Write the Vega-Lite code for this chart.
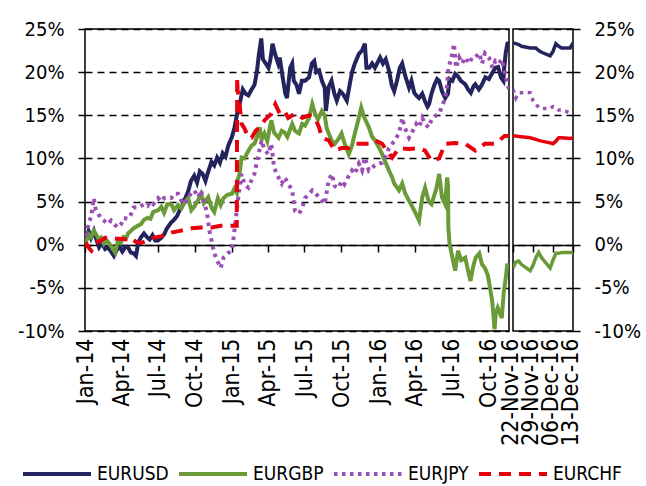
{
"$schema": "https://vega.github.io/schema/vega-lite/v6.json",
"padding": {"left": 16, "top": 18, "right": 2, "bottom": 2},
"bounds": "flush",
"config": {
  "view": {"stroke": "#000", "strokeWidth": 1.5},
  "font": "DejaVu Sans Condensed",
  "axis": {"labelFont": "DejaVu Sans Condensed", "labelColor": "#000", "tickColor": "#000", "domainColor": "#000"},
  "legend": {"labelFont": "DejaVu Sans Condensed"}
},
"spacing": 4,
"data": {"values": [
{"d":"2014-01-02","s":"EURUSD","v":0.5},{"d":"2014-01-06","s":"EURUSD","v":1.0},{"d":"2014-01-10","s":"EURUSD","v":1.6},{"d":"2014-01-16","s":"EURUSD","v":0.8},{"d":"2014-01-23","s":"EURUSD","v":1.6},{"d":"2014-01-30","s":"EURUSD","v":0.5},{"d":"2014-02-05","s":"EURUSD","v":-0.3},{"d":"2014-02-12","s":"EURUSD","v":0.2},{"d":"2014-02-20","s":"EURUSD","v":-0.5},{"d":"2014-02-27","s":"EURUSD","v":-0.3},{"d":"2014-03-07","s":"EURUSD","v":-0.8},{"d":"2014-03-14","s":"EURUSD","v":-1.3},{"d":"2014-03-21","s":"EURUSD","v":-0.6},{"d":"2014-03-28","s":"EURUSD","v":-0.2},{"d":"2014-04-04","s":"EURUSD","v":-0.8},{"d":"2014-04-11","s":"EURUSD","v":-0.3},{"d":"2014-04-18","s":"EURUSD","v":-0.3},{"d":"2014-04-25","s":"EURUSD","v":-0.9},{"d":"2014-05-02","s":"EURUSD","v":-1.0},{"d":"2014-05-08","s":"EURUSD","v":-1.3},{"d":"2014-05-14","s":"EURUSD","v":0.3},{"d":"2014-05-21","s":"EURUSD","v":0.9},{"d":"2014-05-28","s":"EURUSD","v":1.3},{"d":"2014-06-04","s":"EURUSD","v":0.9},{"d":"2014-06-11","s":"EURUSD","v":0.6},{"d":"2014-06-18","s":"EURUSD","v":1.1},{"d":"2014-06-25","s":"EURUSD","v":0.5},{"d":"2014-07-02","s":"EURUSD","v":0.5},{"d":"2014-07-10","s":"EURUSD","v":0.8},{"d":"2014-07-17","s":"EURUSD","v":1.2},{"d":"2014-07-24","s":"EURUSD","v":1.9},{"d":"2014-08-04","s":"EURUSD","v":2.6},{"d":"2014-08-11","s":"EURUSD","v":2.9},{"d":"2014-08-18","s":"EURUSD","v":3.3},{"d":"2014-08-25","s":"EURUSD","v":4.0},{"d":"2014-09-01","s":"EURUSD","v":4.6},{"d":"2014-09-08","s":"EURUSD","v":5.4},{"d":"2014-09-15","s":"EURUSD","v":6.2},{"d":"2014-09-22","s":"EURUSD","v":7.4},{"d":"2014-09-30","s":"EURUSD","v":8.0},{"d":"2014-10-07","s":"EURUSD","v":7.2},{"d":"2014-10-14","s":"EURUSD","v":8.5},{"d":"2014-10-21","s":"EURUSD","v":8.2},{"d":"2014-10-28","s":"EURUSD","v":7.4},{"d":"2014-11-04","s":"EURUSD","v":8.5},{"d":"2014-11-12","s":"EURUSD","v":9.6},{"d":"2014-11-19","s":"EURUSD","v":9.2},{"d":"2014-11-26","s":"EURUSD","v":10.1},{"d":"2014-12-03","s":"EURUSD","v":9.5},{"d":"2014-12-10","s":"EURUSD","v":10.6},{"d":"2014-12-17","s":"EURUSD","v":10.2},{"d":"2014-12-24","s":"EURUSD","v":11.5},{"d":"2015-01-02","s":"EURUSD","v":12.5},{"d":"2015-01-08","s":"EURUSD","v":13.5},{"d":"2015-01-15","s":"EURUSD","v":15.2},{"d":"2015-01-22","s":"EURUSD","v":16.5},{"d":"2015-01-29","s":"EURUSD","v":18.0},{"d":"2015-02-05","s":"EURUSD","v":17.5},{"d":"2015-02-12","s":"EURUSD","v":17.3},{"d":"2015-02-20","s":"EURUSD","v":18.0},{"d":"2015-02-27","s":"EURUSD","v":18.5},{"d":"2015-03-05","s":"EURUSD","v":20.0},{"d":"2015-03-10","s":"EURUSD","v":22.0},{"d":"2015-03-16","s":"EURUSD","v":23.9},{"d":"2015-03-20","s":"EURUSD","v":21.5},{"d":"2015-03-27","s":"EURUSD","v":21.0},{"d":"2015-04-03","s":"EURUSD","v":20.5},{"d":"2015-04-08","s":"EURUSD","v":21.5},{"d":"2015-04-13","s":"EURUSD","v":23.3},{"d":"2015-04-20","s":"EURUSD","v":22.0},{"d":"2015-04-27","s":"EURUSD","v":21.0},{"d":"2015-05-01","s":"EURUSD","v":21.7},{"d":"2015-05-08","s":"EURUSD","v":19.5},{"d":"2015-05-15","s":"EURUSD","v":17.5},{"d":"2015-05-19","s":"EURUSD","v":17.0},{"d":"2015-05-27","s":"EURUSD","v":20.5},{"d":"2015-06-01","s":"EURUSD","v":21.0},{"d":"2015-06-05","s":"EURUSD","v":19.0},{"d":"2015-06-12","s":"EURUSD","v":18.5},{"d":"2015-06-18","s":"EURUSD","v":17.5},{"d":"2015-06-25","s":"EURUSD","v":19.0},{"d":"2015-07-03","s":"EURUSD","v":19.0},{"d":"2015-07-13","s":"EURUSD","v":19.4},{"d":"2015-07-20","s":"EURUSD","v":21.0},{"d":"2015-07-26","s":"EURUSD","v":21.3},{"d":"2015-07-31","s":"EURUSD","v":20.0},{"d":"2015-08-07","s":"EURUSD","v":20.2},{"d":"2015-08-14","s":"EURUSD","v":19.0},{"d":"2015-08-21","s":"EURUSD","v":18.2},{"d":"2015-08-24","s":"EURUSD","v":15.5},{"d":"2015-08-31","s":"EURUSD","v":18.3},{"d":"2015-09-07","s":"EURUSD","v":19.0},{"d":"2015-09-14","s":"EURUSD","v":17.5},{"d":"2015-09-20","s":"EURUSD","v":16.7},{"d":"2015-09-28","s":"EURUSD","v":17.8},{"d":"2015-10-05","s":"EURUSD","v":17.5},{"d":"2015-10-15","s":"EURUSD","v":16.7},{"d":"2015-10-22","s":"EURUSD","v":18.5},{"d":"2015-10-28","s":"EURUSD","v":20.0},{"d":"2015-11-04","s":"EURUSD","v":21.0},{"d":"2015-11-14","s":"EURUSD","v":22.1},{"d":"2015-11-22","s":"EURUSD","v":22.5},{"d":"2015-11-29","s":"EURUSD","v":23.3},{"d":"2015-12-03","s":"EURUSD","v":20.5},{"d":"2015-12-10","s":"EURUSD","v":20.5},{"d":"2015-12-17","s":"EURUSD","v":21.0},{"d":"2015-12-24","s":"EURUSD","v":20.5},{"d":"2016-01-06","s":"EURUSD","v":21.7},{"d":"2016-01-13","s":"EURUSD","v":21.0},{"d":"2016-01-20","s":"EURUSD","v":21.5},{"d":"2016-01-28","s":"EURUSD","v":20.2},{"d":"2016-02-04","s":"EURUSD","v":18.5},{"d":"2016-02-10","s":"EURUSD","v":17.8},{"d":"2016-02-17","s":"EURUSD","v":19.0},{"d":"2016-02-24","s":"EURUSD","v":20.5},{"d":"2016-03-01","s":"EURUSD","v":21.0},{"d":"2016-03-09","s":"EURUSD","v":19.5},{"d":"2016-03-18","s":"EURUSD","v":18.2},{"d":"2016-03-24","s":"EURUSD","v":19.0},{"d":"2016-03-31","s":"EURUSD","v":17.6},{"d":"2016-04-07","s":"EURUSD","v":17.2},{"d":"2016-04-12","s":"EURUSD","v":17.0},{"d":"2016-04-20","s":"EURUSD","v":17.5},{"d":"2016-04-27","s":"EURUSD","v":16.6},{"d":"2016-05-03","s":"EURUSD","v":16.0},{"d":"2016-05-07","s":"EURUSD","v":16.3},{"d":"2016-05-13","s":"EURUSD","v":17.5},{"d":"2016-05-20","s":"EURUSD","v":18.5},{"d":"2016-05-27","s":"EURUSD","v":19.2},{"d":"2016-06-01","s":"EURUSD","v":19.0},{"d":"2016-06-08","s":"EURUSD","v":17.8},{"d":"2016-06-16","s":"EURUSD","v":17.0},{"d":"2016-06-23","s":"EURUSD","v":17.5},{"d":"2016-06-27","s":"EURUSD","v":19.2},{"d":"2016-07-04","s":"EURUSD","v":19.0},{"d":"2016-07-11","s":"EURUSD","v":19.8},{"d":"2016-07-18","s":"EURUSD","v":19.5},{"d":"2016-07-25","s":"EURUSD","v":19.0},{"d":"2016-08-05","s":"EURUSD","v":18.6},{"d":"2016-08-12","s":"EURUSD","v":18.0},{"d":"2016-08-19","s":"EURUSD","v":17.6},{"d":"2016-08-26","s":"EURUSD","v":18.4},{"d":"2016-08-30","s":"EURUSD","v":18.6},{"d":"2016-09-08","s":"EURUSD","v":18.0},{"d":"2016-09-15","s":"EURUSD","v":18.5},{"d":"2016-09-24","s":"EURUSD","v":19.4},{"d":"2016-10-03","s":"EURUSD","v":19.2},{"d":"2016-10-10","s":"EURUSD","v":19.8},{"d":"2016-10-19","s":"EURUSD","v":20.5},{"d":"2016-10-26","s":"EURUSD","v":20.6},{"d":"2016-11-02","s":"EURUSD","v":19.4},{"d":"2016-11-08","s":"EURUSD","v":19.0},{"d":"2016-11-10","s":"EURUSD","v":20.5},{"d":"2016-11-14","s":"EURUSD","v":22.3},{"d":"2016-11-18","s":"EURUSD","v":23.3},{"d":"2016-11-22","s":"EURUSD","v":23.4},{"d":"2016-11-23","s":"EURUSD","v":23.3},{"d":"2016-11-24","s":"EURUSD","v":23.2},{"d":"2016-11-25","s":"EURUSD","v":23.0},{"d":"2016-11-28","s":"EURUSD","v":22.8},{"d":"2016-11-29","s":"EURUSD","v":22.8},{"d":"2016-11-30","s":"EURUSD","v":22.8},{"d":"2016-12-01","s":"EURUSD","v":22.5},{"d":"2016-12-02","s":"EURUSD","v":22.3},{"d":"2016-12-05","s":"EURUSD","v":21.9},{"d":"2016-12-06","s":"EURUSD","v":22.4},{"d":"2016-12-07","s":"EURUSD","v":23.3},{"d":"2016-12-08","s":"EURUSD","v":23.0},{"d":"2016-12-09","s":"EURUSD","v":22.8},{"d":"2016-12-12","s":"EURUSD","v":22.8},{"d":"2016-12-13","s":"EURUSD","v":23.4},
{"d":"2014-01-02","s":"EURGBP","v":0.3},{"d":"2014-01-06","s":"EURGBP","v":0.6},{"d":"2014-01-10","s":"EURGBP","v":1.2},{"d":"2014-01-16","s":"EURGBP","v":0.9},{"d":"2014-01-23","s":"EURGBP","v":1.6},{"d":"2014-01-30","s":"EURGBP","v":1.1},{"d":"2014-02-05","s":"EURGBP","v":0.6},{"d":"2014-02-10","s":"EURGBP","v":0.8},{"d":"2014-02-17","s":"EURGBP","v":0.1},{"d":"2014-02-24","s":"EURGBP","v":0.5},{"d":"2014-03-03","s":"EURGBP","v":0.1},{"d":"2014-03-10","s":"EURGBP","v":-0.4},{"d":"2014-03-17","s":"EURGBP","v":-0.9},{"d":"2014-03-24","s":"EURGBP","v":0.4},{"d":"2014-03-31","s":"EURGBP","v":0.2},{"d":"2014-04-07","s":"EURGBP","v":0.9},{"d":"2014-04-14","s":"EURGBP","v":0.8},{"d":"2014-04-18","s":"EURGBP","v":1.3},{"d":"2014-04-25","s":"EURGBP","v":1.6},{"d":"2014-05-02","s":"EURGBP","v":1.9},{"d":"2014-05-09","s":"EURGBP","v":2.1},{"d":"2014-05-21","s":"EURGBP","v":2.4},{"d":"2014-05-28","s":"EURGBP","v":2.9},{"d":"2014-06-06","s":"EURGBP","v":3.1},{"d":"2014-06-13","s":"EURGBP","v":3.0},{"d":"2014-06-20","s":"EURGBP","v":3.8},{"d":"2014-07-02","s":"EURGBP","v":4.0},{"d":"2014-07-10","s":"EURGBP","v":4.4},{"d":"2014-07-17","s":"EURGBP","v":3.7},{"d":"2014-07-25","s":"EURGBP","v":4.7},{"d":"2014-08-04","s":"EURGBP","v":4.7},{"d":"2014-08-11","s":"EURGBP","v":4.0},{"d":"2014-08-21","s":"EURGBP","v":4.6},{"d":"2014-08-29","s":"EURGBP","v":4.2},{"d":"2014-09-05","s":"EURGBP","v":4.8},{"d":"2014-09-15","s":"EURGBP","v":5.4},{"d":"2014-09-23","s":"EURGBP","v":4.0},{"d":"2014-09-30","s":"EURGBP","v":4.4},{"d":"2014-10-10","s":"EURGBP","v":5.2},{"d":"2014-10-17","s":"EURGBP","v":5.9},{"d":"2014-10-24","s":"EURGBP","v":4.8},{"d":"2014-11-04","s":"EURGBP","v":5.5},{"d":"2014-11-12","s":"EURGBP","v":4.3},{"d":"2014-11-19","s":"EURGBP","v":3.8},{"d":"2014-11-28","s":"EURGBP","v":5.4},{"d":"2014-12-05","s":"EURGBP","v":4.6},{"d":"2014-12-12","s":"EURGBP","v":5.4},{"d":"2014-12-22","s":"EURGBP","v":5.8},{"d":"2015-01-02","s":"EURGBP","v":5.9},{"d":"2015-01-08","s":"EURGBP","v":6.5},{"d":"2015-01-14","s":"EURGBP","v":6.0},{"d":"2015-01-16","s":"EURGBP","v":7.5},{"d":"2015-01-21","s":"EURGBP","v":8.2},{"d":"2015-01-26","s":"EURGBP","v":10.1},{"d":"2015-02-02","s":"EURGBP","v":10.0},{"d":"2015-02-12","s":"EURGBP","v":10.9},{"d":"2015-02-20","s":"EURGBP","v":11.5},{"d":"2015-02-27","s":"EURGBP","v":11.7},{"d":"2015-03-05","s":"EURGBP","v":12.4},{"d":"2015-03-12","s":"EURGBP","v":13.6},{"d":"2015-03-17","s":"EURGBP","v":12.2},{"d":"2015-03-24","s":"EURGBP","v":12.9},{"d":"2015-03-31","s":"EURGBP","v":12.0},{"d":"2015-04-06","s":"EURGBP","v":13.5},{"d":"2015-04-10","s":"EURGBP","v":14.4},{"d":"2015-04-17","s":"EURGBP","v":13.0},{"d":"2015-04-28","s":"EURGBP","v":12.4},{"d":"2015-05-06","s":"EURGBP","v":13.2},{"d":"2015-05-13","s":"EURGBP","v":13.0},{"d":"2015-05-20","s":"EURGBP","v":12.5},{"d":"2015-06-01","s":"EURGBP","v":14.0},{"d":"2015-06-08","s":"EURGBP","v":13.2},{"d":"2015-06-18","s":"EURGBP","v":12.9},{"d":"2015-06-26","s":"EURGBP","v":14.0},{"d":"2015-07-03","s":"EURGBP","v":13.8},{"d":"2015-07-13","s":"EURGBP","v":14.7},{"d":"2015-07-21","s":"EURGBP","v":16.3},{"d":"2015-07-28","s":"EURGBP","v":15.2},{"d":"2015-08-04","s":"EURGBP","v":14.5},{"d":"2015-08-14","s":"EURGBP","v":15.5},{"d":"2015-08-21","s":"EURGBP","v":15.0},{"d":"2015-08-26","s":"EURGBP","v":13.5},{"d":"2015-08-31","s":"EURGBP","v":12.9},{"d":"2015-09-08","s":"EURGBP","v":12.0},{"d":"2015-09-15","s":"EURGBP","v":11.7},{"d":"2015-09-25","s":"EURGBP","v":12.3},{"d":"2015-10-02","s":"EURGBP","v":12.9},{"d":"2015-10-09","s":"EURGBP","v":11.8},{"d":"2015-10-20","s":"EURGBP","v":10.5},{"d":"2015-10-28","s":"EURGBP","v":11.5},{"d":"2015-11-04","s":"EURGBP","v":12.9},{"d":"2015-11-13","s":"EURGBP","v":14.5},{"d":"2015-11-20","s":"EURGBP","v":15.9},{"d":"2015-11-27","s":"EURGBP","v":14.8},{"d":"2015-12-09","s":"EURGBP","v":13.6},{"d":"2015-12-17","s":"EURGBP","v":12.5},{"d":"2015-12-24","s":"EURGBP","v":12.1},{"d":"2016-01-04","s":"EURGBP","v":11.2},{"d":"2016-01-11","s":"EURGBP","v":10.5},{"d":"2016-01-18","s":"EURGBP","v":9.7},{"d":"2016-01-28","s":"EURGBP","v":8.6},{"d":"2016-02-05","s":"EURGBP","v":7.8},{"d":"2016-02-10","s":"EURGBP","v":7.1},{"d":"2016-02-22","s":"EURGBP","v":6.3},{"d":"2016-03-01","s":"EURGBP","v":7.1},{"d":"2016-03-08","s":"EURGBP","v":6.0},{"d":"2016-03-18","s":"EURGBP","v":5.1},{"d":"2016-03-25","s":"EURGBP","v":4.5},{"d":"2016-04-05","s":"EURGBP","v":3.5},{"d":"2016-04-12","s":"EURGBP","v":2.8},{"d":"2016-04-20","s":"EURGBP","v":5.5},{"d":"2016-04-27","s":"EURGBP","v":6.6},{"d":"2016-05-06","s":"EURGBP","v":5.0},{"d":"2016-05-13","s":"EURGBP","v":4.7},{"d":"2016-05-25","s":"EURGBP","v":6.5},{"d":"2016-06-01","s":"EURGBP","v":8.2},{"d":"2016-06-08","s":"EURGBP","v":5.5},{"d":"2016-06-16","s":"EURGBP","v":4.7},{"d":"2016-06-21","s":"EURGBP","v":7.8},{"d":"2016-06-23","s":"EURGBP","v":6.8},{"d":"2016-06-24","s":"EURGBP","v":2.0},{"d":"2016-06-27","s":"EURGBP","v":0.1},{"d":"2016-07-04","s":"EURGBP","v":-1.5},{"d":"2016-07-11","s":"EURGBP","v":-3.0},{"d":"2016-07-18","s":"EURGBP","v":-0.7},{"d":"2016-07-26","s":"EURGBP","v":-1.8},{"d":"2016-08-05","s":"EURGBP","v":-1.5},{"d":"2016-08-12","s":"EURGBP","v":-3.0},{"d":"2016-08-18","s":"EURGBP","v":-4.2},{"d":"2016-08-25","s":"EURGBP","v":-2.5},{"d":"2016-08-31","s":"EURGBP","v":-1.5},{"d":"2016-09-09","s":"EURGBP","v":-1.0},{"d":"2016-09-16","s":"EURGBP","v":-2.3},{"d":"2016-09-23","s":"EURGBP","v":-2.7},{"d":"2016-09-30","s":"EURGBP","v":-3.5},{"d":"2016-10-05","s":"EURGBP","v":-4.8},{"d":"2016-10-11","s":"EURGBP","v":-6.5},{"d":"2016-10-14","s":"EURGBP","v":-8.0},{"d":"2016-10-17","s":"EURGBP","v":-9.8},{"d":"2016-10-20","s":"EURGBP","v":-8.0},{"d":"2016-10-25","s":"EURGBP","v":-7.3},{"d":"2016-10-31","s":"EURGBP","v":-8.0},{"d":"2016-11-04","s":"EURGBP","v":-8.5},{"d":"2016-11-09","s":"EURGBP","v":-5.5},{"d":"2016-11-14","s":"EURGBP","v":-3.8},{"d":"2016-11-18","s":"EURGBP","v":-2.2},{"d":"2016-11-22","s":"EURGBP","v":-2.7},{"d":"2016-11-23","s":"EURGBP","v":-2.0},{"d":"2016-11-24","s":"EURGBP","v":-1.9},{"d":"2016-11-25","s":"EURGBP","v":-2.3},{"d":"2016-11-28","s":"EURGBP","v":-3.0},{"d":"2016-11-29","s":"EURGBP","v":-2.4},{"d":"2016-11-30","s":"EURGBP","v":-1.5},{"d":"2016-12-01","s":"EURGBP","v":-0.9},{"d":"2016-12-02","s":"EURGBP","v":-1.5},{"d":"2016-12-05","s":"EURGBP","v":-2.7},{"d":"2016-12-06","s":"EURGBP","v":-1.8},{"d":"2016-12-07","s":"EURGBP","v":-1.0},{"d":"2016-12-08","s":"EURGBP","v":-1.0},{"d":"2016-12-09","s":"EURGBP","v":-0.9},{"d":"2016-12-12","s":"EURGBP","v":-0.9},{"d":"2016-12-13","s":"EURGBP","v":-0.9},
{"d":"2014-01-02","s":"EURJPY","v":1.0},{"d":"2014-01-06","s":"EURJPY","v":1.3},{"d":"2014-01-10","s":"EURJPY","v":2.5},{"d":"2014-01-16","s":"EURJPY","v":3.2},{"d":"2014-01-23","s":"EURJPY","v":5.4},{"d":"2014-01-28","s":"EURJPY","v":4.0},{"d":"2014-02-03","s":"EURJPY","v":3.6},{"d":"2014-02-10","s":"EURJPY","v":3.0},{"d":"2014-02-17","s":"EURJPY","v":2.8},{"d":"2014-02-27","s":"EURJPY","v":2.4},{"d":"2014-03-07","s":"EURJPY","v":2.8},{"d":"2014-03-14","s":"EURJPY","v":2.4},{"d":"2014-03-24","s":"EURJPY","v":2.0},{"d":"2014-04-01","s":"EURJPY","v":2.4},{"d":"2014-04-08","s":"EURJPY","v":3.1},{"d":"2014-04-18","s":"EURJPY","v":3.0},{"d":"2014-04-25","s":"EURJPY","v":3.5},{"d":"2014-05-02","s":"EURJPY","v":4.3},{"d":"2014-05-13","s":"EURJPY","v":4.3},{"d":"2014-05-21","s":"EURJPY","v":4.5},{"d":"2014-05-28","s":"EURJPY","v":4.7},{"d":"2014-06-06","s":"EURJPY","v":4.5},{"d":"2014-06-13","s":"EURJPY","v":5.0},{"d":"2014-06-20","s":"EURJPY","v":4.7},{"d":"2014-07-02","s":"EURJPY","v":5.4},{"d":"2014-07-10","s":"EURJPY","v":5.0},{"d":"2014-07-17","s":"EURJPY","v":5.4},{"d":"2014-07-25","s":"EURJPY","v":5.4},{"d":"2014-08-04","s":"EURJPY","v":5.4},{"d":"2014-08-11","s":"EURJPY","v":5.9},{"d":"2014-08-21","s":"EURJPY","v":5.9},{"d":"2014-08-29","s":"EURJPY","v":5.1},{"d":"2014-09-05","s":"EURJPY","v":4.7},{"d":"2014-09-15","s":"EURJPY","v":5.5},{"d":"2014-09-23","s":"EURJPY","v":6.0},{"d":"2014-09-30","s":"EURJPY","v":6.3},{"d":"2014-10-10","s":"EURJPY","v":5.5},{"d":"2014-10-17","s":"EURJPY","v":6.3},{"d":"2014-10-24","s":"EURJPY","v":5.0},{"d":"2014-10-31","s":"EURJPY","v":3.9},{"d":"2014-11-07","s":"EURJPY","v":1.6},{"d":"2014-11-19","s":"EURJPY","v":-1.0},{"d":"2014-11-26","s":"EURJPY","v":-1.8},{"d":"2014-12-05","s":"EURJPY","v":-2.7},{"d":"2014-12-12","s":"EURJPY","v":-1.5},{"d":"2014-12-22","s":"EURJPY","v":-1.0},{"d":"2015-01-02","s":"EURJPY","v":-0.7},{"d":"2015-01-06","s":"EURJPY","v":0.8},{"d":"2015-01-14","s":"EURJPY","v":4.0},{"d":"2015-01-19","s":"EURJPY","v":5.9},{"d":"2015-01-26","s":"EURJPY","v":8.2},{"d":"2015-02-02","s":"EURJPY","v":7.0},{"d":"2015-02-12","s":"EURJPY","v":6.6},{"d":"2015-02-20","s":"EURJPY","v":7.5},{"d":"2015-02-27","s":"EURJPY","v":8.2},{"d":"2015-03-09","s":"EURJPY","v":10.5},{"d":"2015-03-17","s":"EURJPY","v":12.1},{"d":"2015-03-24","s":"EURJPY","v":11.0},{"d":"2015-04-03","s":"EURJPY","v":10.5},{"d":"2015-04-10","s":"EURJPY","v":11.7},{"d":"2015-04-17","s":"EURJPY","v":8.9},{"d":"2015-04-28","s":"EURJPY","v":7.8},{"d":"2015-05-06","s":"EURJPY","v":7.1},{"d":"2015-05-13","s":"EURJPY","v":7.8},{"d":"2015-05-22","s":"EURJPY","v":7.1},{"d":"2015-06-01","s":"EURJPY","v":6.3},{"d":"2015-06-08","s":"EURJPY","v":3.9},{"d":"2015-06-18","s":"EURJPY","v":3.6},{"d":"2015-06-26","s":"EURJPY","v":4.3},{"d":"2015-07-03","s":"EURJPY","v":5.4},{"d":"2015-07-13","s":"EURJPY","v":5.9},{"d":"2015-07-21","s":"EURJPY","v":6.3},{"d":"2015-07-28","s":"EURJPY","v":6.0},{"d":"2015-08-07","s":"EURJPY","v":5.5},{"d":"2015-08-14","s":"EURJPY","v":5.1},{"d":"2015-08-21","s":"EURJPY","v":4.7},{"d":"2015-08-31","s":"EURJPY","v":7.5},{"d":"2015-09-08","s":"EURJPY","v":8.2},{"d":"2015-09-15","s":"EURJPY","v":6.8},{"d":"2015-09-25","s":"EURJPY","v":6.6},{"d":"2015-10-02","s":"EURJPY","v":7.4},{"d":"2015-10-09","s":"EURJPY","v":7.0},{"d":"2015-10-20","s":"EURJPY","v":8.0},{"d":"2015-10-28","s":"EURJPY","v":8.6},{"d":"2015-11-04","s":"EURJPY","v":8.2},{"d":"2015-11-14","s":"EURJPY","v":9.4},{"d":"2015-11-22","s":"EURJPY","v":8.6},{"d":"2015-11-29","s":"EURJPY","v":10.1},{"d":"2015-12-09","s":"EURJPY","v":8.6},{"d":"2015-12-17","s":"EURJPY","v":8.9},{"d":"2015-12-24","s":"EURJPY","v":9.2},{"d":"2016-01-04","s":"EURJPY","v":9.4},{"d":"2016-01-11","s":"EURJPY","v":9.5},{"d":"2016-01-18","s":"EURJPY","v":10.0},{"d":"2016-01-28","s":"EURJPY","v":11.2},{"d":"2016-02-10","s":"EURJPY","v":12.0},{"d":"2016-02-22","s":"EURJPY","v":12.9},{"d":"2016-03-01","s":"EURJPY","v":14.7},{"d":"2016-03-08","s":"EURJPY","v":13.5},{"d":"2016-03-18","s":"EURJPY","v":12.4},{"d":"2016-03-25","s":"EURJPY","v":13.0},{"d":"2016-04-05","s":"EURJPY","v":14.0},{"d":"2016-04-12","s":"EURJPY","v":13.6},{"d":"2016-04-20","s":"EURJPY","v":14.7},{"d":"2016-04-27","s":"EURJPY","v":14.0},{"d":"2016-05-06","s":"EURJPY","v":13.6},{"d":"2016-05-13","s":"EURJPY","v":14.5},{"d":"2016-05-25","s":"EURJPY","v":15.0},{"d":"2016-06-01","s":"EURJPY","v":15.2},{"d":"2016-06-08","s":"EURJPY","v":16.0},{"d":"2016-06-16","s":"EURJPY","v":17.0},{"d":"2016-06-21","s":"EURJPY","v":18.6},{"d":"2016-06-24","s":"EURJPY","v":20.5},{"d":"2016-07-01","s":"EURJPY","v":21.5},{"d":"2016-07-08","s":"EURJPY","v":23.3},{"d":"2016-07-13","s":"EURJPY","v":20.5},{"d":"2016-07-21","s":"EURJPY","v":21.7},{"d":"2016-07-28","s":"EURJPY","v":21.0},{"d":"2016-08-05","s":"EURJPY","v":21.7},{"d":"2016-08-15","s":"EURJPY","v":21.0},{"d":"2016-08-22","s":"EURJPY","v":21.7},{"d":"2016-08-30","s":"EURJPY","v":21.7},{"d":"2016-09-09","s":"EURJPY","v":22.2},{"d":"2016-09-16","s":"EURJPY","v":21.0},{"d":"2016-09-23","s":"EURJPY","v":22.2},{"d":"2016-10-03","s":"EURJPY","v":21.7},{"d":"2016-10-12","s":"EURJPY","v":20.5},{"d":"2016-10-19","s":"EURJPY","v":21.3},{"d":"2016-10-28","s":"EURJPY","v":21.0},{"d":"2016-11-04","s":"EURJPY","v":21.5},{"d":"2016-11-09","s":"EURJPY","v":20.5},{"d":"2016-11-14","s":"EURJPY","v":19.5},{"d":"2016-11-18","s":"EURJPY","v":18.6},{"d":"2016-11-22","s":"EURJPY","v":18.0},{"d":"2016-11-23","s":"EURJPY","v":17.0},{"d":"2016-11-24","s":"EURJPY","v":17.6},{"d":"2016-11-25","s":"EURJPY","v":17.6},{"d":"2016-11-28","s":"EURJPY","v":17.6},{"d":"2016-11-29","s":"EURJPY","v":16.7},{"d":"2016-11-30","s":"EURJPY","v":16.3},{"d":"2016-12-01","s":"EURJPY","v":15.9},{"d":"2016-12-02","s":"EURJPY","v":15.8},{"d":"2016-12-05","s":"EURJPY","v":15.8},{"d":"2016-12-06","s":"EURJPY","v":16.0},{"d":"2016-12-07","s":"EURJPY","v":15.9},{"d":"2016-12-08","s":"EURJPY","v":15.6},{"d":"2016-12-09","s":"EURJPY","v":15.6},{"d":"2016-12-12","s":"EURJPY","v":15.3},{"d":"2016-12-13","s":"EURJPY","v":15.3},
{"d":"2014-01-02","s":"EURCHF","v":-0.3},{"d":"2014-01-06","s":"EURCHF","v":0.0},{"d":"2014-01-13","s":"EURCHF","v":-0.5},{"d":"2014-01-17","s":"EURCHF","v":-0.7},{"d":"2014-01-28","s":"EURCHF","v":0.2},{"d":"2014-02-10","s":"EURCHF","v":0.5},{"d":"2014-02-20","s":"EURCHF","v":0.8},{"d":"2014-03-07","s":"EURCHF","v":0.8},{"d":"2014-03-21","s":"EURCHF","v":0.7},{"d":"2014-04-01","s":"EURCHF","v":0.7},{"d":"2014-04-15","s":"EURCHF","v":0.6},{"d":"2014-04-25","s":"EURCHF","v":0.8},{"d":"2014-05-09","s":"EURCHF","v":0.3},{"d":"2014-05-21","s":"EURCHF","v":0.2},{"d":"2014-06-06","s":"EURCHF","v":0.5},{"d":"2014-06-20","s":"EURCHF","v":0.8},{"d":"2014-07-10","s":"EURCHF","v":1.0},{"d":"2014-08-04","s":"EURCHF","v":1.4},{"d":"2014-08-25","s":"EURCHF","v":1.6},{"d":"2014-09-23","s":"EURCHF","v":1.9},{"d":"2014-10-17","s":"EURCHF","v":2.0},{"d":"2014-11-12","s":"EURCHF","v":2.0},{"d":"2014-12-05","s":"EURCHF","v":2.2},{"d":"2014-12-22","s":"EURCHF","v":2.2},{"d":"2015-01-14","s":"EURCHF","v":2.2},{"d":"2015-01-15","s":"EURCHF","v":19.4},{"d":"2015-01-16","s":"EURCHF","v":18.0},{"d":"2015-01-21","s":"EURCHF","v":16.3},{"d":"2015-01-26","s":"EURCHF","v":14.0},{"d":"2015-02-02","s":"EURCHF","v":13.5},{"d":"2015-02-12","s":"EURCHF","v":12.4},{"d":"2015-02-20","s":"EURCHF","v":12.4},{"d":"2015-03-02","s":"EURCHF","v":13.2},{"d":"2015-03-12","s":"EURCHF","v":13.6},{"d":"2015-03-24","s":"EURCHF","v":14.4},{"d":"2015-04-10","s":"EURCHF","v":15.2},{"d":"2015-04-20","s":"EURCHF","v":16.3},{"d":"2015-05-01","s":"EURCHF","v":15.2},{"d":"2015-05-13","s":"EURCHF","v":15.5},{"d":"2015-05-22","s":"EURCHF","v":14.7},{"d":"2015-06-08","s":"EURCHF","v":15.2},{"d":"2015-06-26","s":"EURCHF","v":14.7},{"d":"2015-07-13","s":"EURCHF","v":15.0},{"d":"2015-07-28","s":"EURCHF","v":14.7},{"d":"2015-08-07","s":"EURCHF","v":13.6},{"d":"2015-08-14","s":"EURCHF","v":12.4},{"d":"2015-08-31","s":"EURCHF","v":12.1},{"d":"2015-09-15","s":"EURCHF","v":10.9},{"d":"2015-10-02","s":"EURCHF","v":11.2},{"d":"2015-10-20","s":"EURCHF","v":11.2},{"d":"2015-11-04","s":"EURCHF","v":11.7},{"d":"2015-11-20","s":"EURCHF","v":11.7},{"d":"2015-12-09","s":"EURCHF","v":11.7},{"d":"2015-12-24","s":"EURCHF","v":12.1},{"d":"2016-01-11","s":"EURCHF","v":11.7},{"d":"2016-01-18","s":"EURCHF","v":11.2},{"d":"2016-02-05","s":"EURCHF","v":10.1},{"d":"2016-02-22","s":"EURCHF","v":11.2},{"d":"2016-03-18","s":"EURCHF","v":11.1},{"d":"2016-04-12","s":"EURCHF","v":11.2},{"d":"2016-04-27","s":"EURCHF","v":10.9},{"d":"2016-05-13","s":"EURCHF","v":9.7},{"d":"2016-06-01","s":"EURCHF","v":10.0},{"d":"2016-06-16","s":"EURCHF","v":11.7},{"d":"2016-07-11","s":"EURCHF","v":11.8},{"d":"2016-08-05","s":"EURCHF","v":11.7},{"d":"2016-08-30","s":"EURCHF","v":10.9},{"d":"2016-09-23","s":"EURCHF","v":11.7},{"d":"2016-10-19","s":"EURCHF","v":11.7},{"d":"2016-11-11","s":"EURCHF","v":12.6},{"d":"2016-11-22","s":"EURCHF","v":12.6},{"d":"2016-11-23","s":"EURCHF","v":12.6},{"d":"2016-11-25","s":"EURCHF","v":12.5},{"d":"2016-11-28","s":"EURCHF","v":12.4},{"d":"2016-11-30","s":"EURCHF","v":12.2},{"d":"2016-12-01","s":"EURCHF","v":12.1},{"d":"2016-12-02","s":"EURCHF","v":12.0},{"d":"2016-12-05","s":"EURCHF","v":11.8},{"d":"2016-12-06","s":"EURCHF","v":11.7},{"d":"2016-12-07","s":"EURCHF","v":12.0},{"d":"2016-12-08","s":"EURCHF","v":12.4},{"d":"2016-12-09","s":"EURCHF","v":12.4},{"d":"2016-12-12","s":"EURCHF","v":12.3},{"d":"2016-12-13","s":"EURCHF","v":12.4}
]},
"hconcat": [
{
  "width": 424, "height": 302,
  "transform": [{"filter": "time(datum.d) <= utc(2016,10,22)"}],
  "mark": {"type": "line", "strokeWidth": 4, "clip": true},
  "encoding": {
    "x": {"field": "d", "type": "temporal",
      "scale": {"type": "utc", "domain": [{"year":2014,"month":1,"date":1,"utc":true},{"year":2016,"month":11,"date":22,"utc":true}]},
      "axis": {"title": null, "format": "%b-%y", "tickCount": {"interval": "month", "step": 3}, "labelAngle": -90, "labelFontSize": 23, "offset": -86, "tickSize": 7, "tickWidth": 1.5, "labelPadding": 86, "domainWidth": 1.5, "grid": false, "labelOverlap": false, "labelBound": false, "labelFlush": false}},
    "y": {"field": "v", "type": "quantitative",
      "scale": {"domain": [-10, 25], "nice": false, "zero": false},
      "axis": {"title": null, "values": [-10,-5,0,5,10,15,20,25], "labelExpr": "datum.value + '%'", "labelFontSize": 20, "tickSize": 7, "tickWidth": 1.5, "labelPadding": 14, "domain": false, "grid": true, "gridDash": [7,5], "gridColor": "#000", "gridWidth": 1.3}},
    "color": {"field": "s", "type": "nominal",
      "scale": {"domain": ["EURUSD","EURGBP","EURJPY","EURCHF"], "range": ["#23235E","#6A9B38","#9B4FB5","#E8000D"]},
      "legend": {"title": null, "orient": "none", "legendX": -64, "legendY": 409, "direction": "horizontal", "symbolType": "stroke", "symbolSize": 4624, "symbolStrokeWidth": 4, "labelFontSize": 19, "labelOffset": 4, "columnPadding": 2, "labelLimit": 0}},
    "strokeDash": {"field": "s", "type": "nominal",
      "scale": {"domain": ["EURUSD","EURGBP","EURJPY","EURCHF"], "range": [[1,0],[1,0],[3.5,4.5],[12,8]]},
      "legend": {"title": null, "orient": "none", "legendX": -64, "legendY": 409, "direction": "horizontal", "symbolType": "stroke", "symbolSize": 4624, "symbolStrokeWidth": 4, "labelFontSize": 19, "labelOffset": 4, "columnPadding": 2, "labelLimit": 0}}
  }
},
{
  "width": 60, "height": 302,
  "transform": [{"filter": "time(datum.d) >= utc(2016,10,22)"}],
  "encoding": {
    "x": {"field": "d", "type": "temporal",
      "scale": {"type": "utc", "domain": [{"year":2016,"month":11,"date":22,"utc":true},{"year":2016,"month":12,"date":13,"utc":true}]},
      "axis": {"title": null, "format": "%d-%b-%y", "values": [{"year":2016,"month":11,"date":22,"utc":true},{"year":2016,"month":11,"date":29,"utc":true},{"year":2016,"month":12,"date":6,"utc":true},{"year":2016,"month":12,"date":13,"utc":true}], "labelAngle": -90, "labelFontSize": 23, "offset": -86, "tickSize": 7, "tickWidth": 1.5, "labelPadding": 86, "labelOffset": -3, "domainWidth": 1.5, "grid": false, "labelOverlap": false, "labelBound": false, "labelFlush": false}},
    "y": {"field": "v", "type": "quantitative",
      "scale": {"domain": [-10, 25], "nice": false, "zero": false},
      "axis": {"title": null, "orient": "right", "values": [-10,-5,0,5,10,15,20,25], "labelExpr": "datum.value + '%'", "labelFontSize": 20, "tickSize": 7, "tickWidth": 1.5, "labelPadding": 14, "domain": false, "grid": true, "gridDash": [7,5], "gridColor": "#000", "gridWidth": 1.3}},
    "color": {"field": "s", "type": "nominal",
      "scale": {"domain": ["EURUSD","EURGBP","EURJPY","EURCHF"], "range": ["#23235E","#6A9B38","#9B4FB5","#E8000D"]},
      "legend": {"title": null, "orient": "none", "legendX": -64, "legendY": 409, "direction": "horizontal", "symbolType": "stroke", "symbolSize": 4624, "symbolStrokeWidth": 4, "labelFontSize": 19, "labelOffset": 4, "columnPadding": 2, "labelLimit": 0}}
  },
  "layer": [
    {"transform": [{"filter": "datum.s != 'EURJPY'"}], "mark": {"type": "line", "strokeWidth": 3.5, "clip": true}},
    {"transform": [{"filter": "datum.s == 'EURJPY'"}], "mark": {"type": "line", "strokeWidth": 3.5, "strokeDash": [3.5,4.5], "clip": true}}
  ]
}
]
}
